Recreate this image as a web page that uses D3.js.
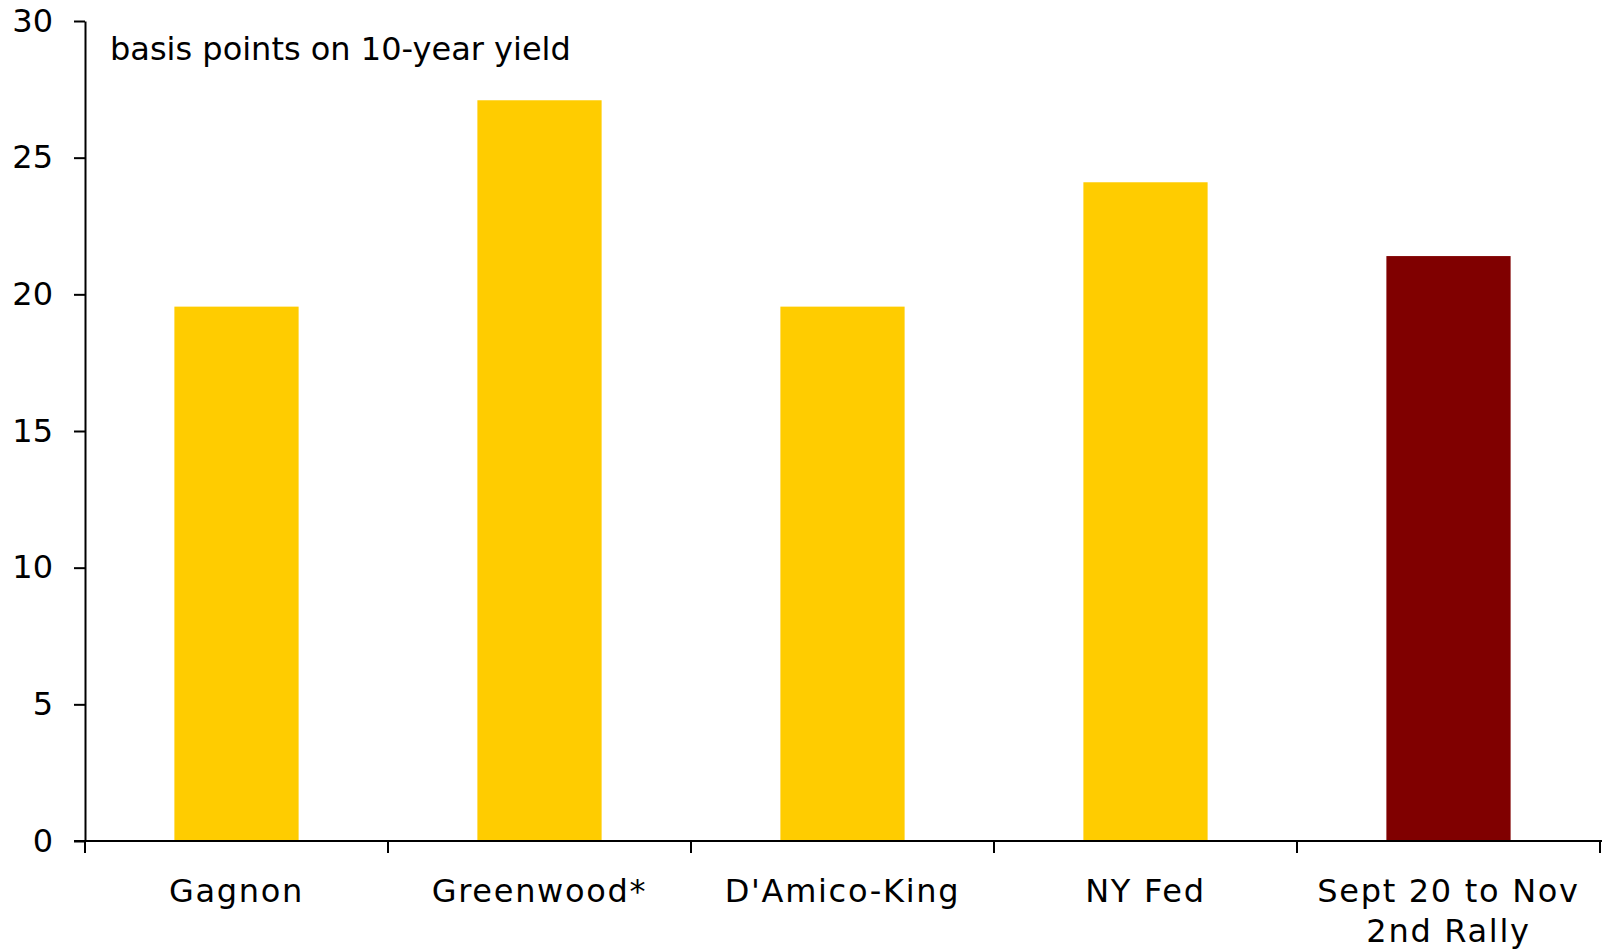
<!DOCTYPE html>
<html><head><meta charset="utf-8">
<script src="https://cdn.jsdelivr.net/npm/d3@7"></script>
<style>body{margin:0;background:#fff}svg{display:block}text{font-family:"DejaVu Sans",Verdana,sans-serif;fill:#000}</style>
</head><body><svg id="c" width="1605" height="952"></svg>
<script>
const categories = [["Gagnon"], ["Greenwood*"], ["D'Amico-King"], ["NY Fed"], ["Sept 20 to Nov", "2nd Rally"]];
const values = [19.55, 27.1, 19.55, 24.1, 21.4];
const barColors = ["#FFCC00", "#FFCC00", "#FFCC00", "#FFCC00", "#800000"];
const yTicks = [0, 5, 10, 15, 20, 25, 30];
const subtitle = "basis points on 10-year yield";

const svg = d3.select("#c");
const m = {left: 85, right: 1600, top: 21, bottom: 841};
const keys = categories.map(c => c.join(" "));
const x = d3.scaleBand().domain(keys).range([m.left, m.right]).paddingInner(0.59).paddingOuter(0.295);
const y = d3.scaleLinear().domain([0, 30]).range([m.bottom, m.top]);

svg.selectAll("rect.bar").data(values).join("rect")
  .attr("class", "bar")
  .attr("x", (d, i) => x(keys[i]))
  .attr("width", x.bandwidth())
  .attr("y", d => y(d))
  .attr("height", d => y(0) - y(d))
  .attr("fill", (d, i) => barColors[i]);

const yAxis = svg.append("g").attr("transform", `translate(${m.left},0)`)
  .call(d3.axisLeft(y).tickValues(yTicks).tickSize(11).tickSizeOuter(0).tickPadding(21));
yAxis.selectAll("path, line").attr("stroke", "#000").attr("stroke-width", 2);
yAxis.selectAll("text").attr("font-size", 32).attr("font-family", "DejaVu Sans");

// x axis
const xg = svg.append("g");
xg.append("line").attr("x1", m.left - 11).attr("x2", m.right + 2).attr("y1", y(0)).attr("y2", y(0))
  .attr("stroke", "#000").attr("stroke-width", 2);
const bounds = d3.range(keys.length + 1).map(i => x.range()[0] + i * x.step());
xg.selectAll("line.tk").data(bounds).join("line").attr("class", "tk")
  .attr("x1", d => d).attr("x2", d => d).attr("y1", y(0)).attr("y2", y(0) + 12)
  .attr("stroke", "#000").attr("stroke-width", 2);
const lbl = xg.selectAll("text.xl").data(categories).join("text").attr("class", "xl")
  .attr("text-anchor", "middle").attr("font-size", 32).attr("letter-spacing", 1.7)
  .attr("x", (d, i) => x(keys[i]) + x.bandwidth() / 2)
  .attr("y", y(0) + 61);
lbl.selectAll("tspan").data(d => d).join("tspan")
  .attr("x", function() { return this.parentNode.getAttribute("x"); })
  .attr("dy", (d, i) => i === 0 ? 0 : 40)
  .text(d => d);

svg.append("text").attr("x", 110).attr("y", 60).attr("font-size", 32).text(subtitle);
</script></body></html>
